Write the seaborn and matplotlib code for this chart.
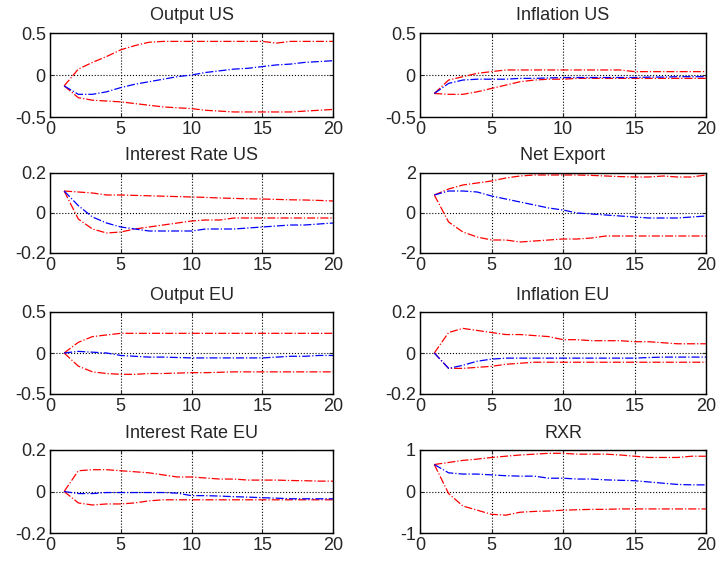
import numpy as np
import matplotlib
matplotlib.use("Agg")
import matplotlib.pyplot as plt
import seaborn as sns

# impulse responses, horizons 1..20 (median in blue, bands in red)
steps = list(range(1, 21))

titles = ["Output US", "Inflation US", "Interest Rate US", "Net Export",
          "Output EU", "Inflation EU", "Interest Rate EU", "RXR"]

out_us_mid = [-0.13, -0.23, -0.23, -0.2, -0.15, -0.11, -0.08, -0.05, -0.02, 0.0,
              0.03, 0.05, 0.07, 0.08, 0.1, 0.12, 0.13, 0.15, 0.16, 0.17]
out_us_hi = [-0.13, 0.07, 0.15, 0.22, 0.3, 0.35, 0.39, 0.4, 0.4, 0.4,
             0.4, 0.4, 0.4, 0.4, 0.4, 0.38, 0.4, 0.4, 0.4, 0.4]
out_us_lo = [-0.13, -0.27, -0.3, -0.31, -0.32, -0.34, -0.36, -0.38, -0.39, -0.4,
             -0.42, -0.43, -0.44, -0.44, -0.44, -0.44, -0.44, -0.43, -0.42, -0.41]

inf_us_mid = [-0.22, -0.1, -0.06, -0.05, -0.05, -0.05, -0.04, -0.04, -0.035, -0.03,
              -0.03, -0.03, -0.03, -0.03, -0.03, -0.025, -0.025, -0.02, -0.02, -0.02]
inf_us_hi = [-0.22, -0.06, -0.02, 0.02, 0.04, 0.06, 0.06, 0.06, 0.06, 0.06,
             0.06, 0.06, 0.06, 0.06, 0.04, 0.04, 0.04, 0.04, 0.04, 0.04]
inf_us_lo = [-0.22, -0.23, -0.23, -0.2, -0.16, -0.12, -0.08, -0.06, -0.05, -0.05,
             -0.04, -0.04, -0.04, -0.04, -0.04, -0.04, -0.04, -0.04, -0.04, -0.04]

ir_us_mid = [0.11, 0.037, -0.02, -0.05, -0.07, -0.08, -0.09, -0.09, -0.09, -0.09,
             -0.08, -0.08, -0.08, -0.075, -0.07, -0.065, -0.06, -0.06, -0.055, -0.05]
ir_us_hi = [0.11, 0.105, 0.1, 0.09, 0.09, 0.088, 0.086, 0.084, 0.082, 0.08,
            0.078, 0.075, 0.073, 0.071, 0.07, 0.068, 0.066, 0.065, 0.063, 0.06]
ir_us_lo = [0.11, -0.03, -0.08, -0.1, -0.095, -0.08, -0.07, -0.06, -0.05, -0.04,
            -0.035, -0.035, -0.025, -0.025, -0.025, -0.025, -0.025, -0.025, -0.025, -0.025]

nx_mid = [0.9, 1.1, 1.1, 1.05, 0.85, 0.7, 0.55, 0.4, 0.25, 0.15,
          0.0, -0.05, -0.1, -0.15, -0.2, -0.25, -0.25, -0.25, -0.2, -0.15]
nx_hi = [0.9, 1.2, 1.4, 1.5, 1.6, 1.75, 1.85, 1.9, 1.9, 1.9,
         1.9, 1.88, 1.85, 1.82, 1.8, 1.8, 1.85, 1.8, 1.8, 1.9]
nx_lo = [0.9, -0.45, -0.95, -1.2, -1.35, -1.35, -1.45, -1.4, -1.35, -1.3,
         -1.3, -1.25, -1.15, -1.15, -1.15, -1.15, -1.15, -1.15, -1.15, -1.15]

out_eu_mid = [0.0, 0.02, 0.01, 0.0, -0.03, -0.04, -0.05, -0.05, -0.055, -0.06,
              -0.06, -0.06, -0.06, -0.06, -0.06, -0.05, -0.04, -0.04, -0.03, -0.03]
out_eu_hi = [0.0, 0.13, 0.2, 0.22, 0.24, 0.24, 0.24, 0.24, 0.24, 0.24,
             0.24, 0.24, 0.24, 0.24, 0.24, 0.24, 0.24, 0.24, 0.24, 0.24]
out_eu_lo = [0.0, -0.16, -0.23, -0.25, -0.26, -0.26, -0.25, -0.25, -0.245, -0.24,
             -0.24, -0.235, -0.23, -0.23, -0.23, -0.23, -0.23, -0.23, -0.23, -0.23]

inf_eu_mid = [0.0, -0.075, -0.06, -0.04, -0.03, -0.025, -0.025, -0.025, -0.025, -0.025,
              -0.025, -0.025, -0.025, -0.025, -0.025, -0.022, -0.02, -0.02, -0.02, -0.02]
inf_eu_hi = [0.0, 0.1, 0.12, 0.11, 0.1, 0.09, 0.09, 0.085, 0.08, 0.065,
             0.065, 0.06, 0.06, 0.06, 0.055, 0.055, 0.05, 0.045, 0.045, 0.045]
inf_eu_lo = [0.0, -0.075, -0.075, -0.07, -0.065, -0.055, -0.05, -0.045, -0.045, -0.045,
             -0.045, -0.045, -0.045, -0.045, -0.045, -0.045, -0.045, -0.045, -0.045, -0.045]

ir_eu_mid = [0.0, -0.01, -0.01, -0.005, -0.005, -0.005, -0.005, -0.005, -0.008, -0.02,
             -0.02, -0.022, -0.025, -0.027, -0.03, -0.032, -0.035, -0.035, -0.035, -0.035]
ir_eu_hi = [0.0, 0.1, 0.105, 0.105, 0.1, 0.095, 0.09, 0.08, 0.07, 0.07,
            0.065, 0.06, 0.06, 0.055, 0.055, 0.055, 0.053, 0.052, 0.05, 0.05]
ir_eu_lo = [0.0, -0.055, -0.065, -0.06, -0.06, -0.055, -0.045, -0.04, -0.04, -0.04,
            -0.04, -0.04, -0.04, -0.04, -0.04, -0.04, -0.04, -0.04, -0.04, -0.04]

rxr_mid = [0.65, 0.45, 0.42, 0.42, 0.4, 0.38, 0.37, 0.37, 0.32, 0.32,
           0.3, 0.3, 0.28, 0.27, 0.26, 0.23, 0.2, 0.17, 0.16, 0.16]
rxr_hi = [0.65, 0.7, 0.75, 0.78, 0.82, 0.85, 0.88, 0.9, 0.92, 0.92,
          0.9, 0.9, 0.9, 0.88, 0.85, 0.82, 0.82, 0.82, 0.85, 0.85]
rxr_lo = [0.65, -0.05, -0.35, -0.45, -0.55, -0.57, -0.5, -0.48, -0.47, -0.45,
          -0.44, -0.43, -0.43, -0.42, -0.42, -0.42, -0.42, -0.42, -0.42, -0.42]

mids = [out_us_mid, inf_us_mid, ir_us_mid, nx_mid, out_eu_mid, inf_eu_mid, ir_eu_mid, rxr_mid]
his = [out_us_hi, inf_us_hi, ir_us_hi, nx_hi, out_eu_hi, inf_eu_hi, ir_eu_hi, rxr_hi]
los = [out_us_lo, inf_us_lo, ir_us_lo, nx_lo, out_eu_lo, inf_eu_lo, ir_eu_lo, rxr_lo]
ylims = [0.5, 0.5, 0.2, 2, 0.5, 0.2, 0.2, 1]

sns.set_style("white")
plt.rcParams['font.family'] = ['Liberation Sans', 'DejaVu Sans']

fig = plt.figure(figsize=(7.18, 5.67), dpi=100)

col_x = [50 / 718, 420 / 718]
col_w = [283 / 718, 286 / 718]
row_top = [33, 173, 312, 450]
row_bot = [117, 253, 394, 533]

for i, title in enumerate(titles):
    r, c = divmod(i, 2)
    ax = fig.add_axes([col_x[c], 1 - row_bot[r] / 567, col_w[c],
                       (row_bot[r] - row_top[r]) / 567])
    lim = ylims[i]
    sns.lineplot(x=steps, y=his[i], ax=ax, color='red', linestyle='-.', lw=0.9)
    sns.lineplot(x=steps, y=los[i], ax=ax, color='red', linestyle='-.', lw=0.9)
    sns.lineplot(x=steps, y=mids[i], ax=ax, color='blue', linestyle='-.', lw=0.9)
    ax.set_xlim(0, 20)
    ax.set_ylim(-lim, lim)
    ax.set_xticks([0, 5, 10, 15, 20])
    ax.set_yticks([-lim, 0, lim])
    ax.set_yticklabels([f'{-lim:g}', '0', f'{lim:g}'])
    ax.grid(True, color='black', linestyle=':', linewidth=0.8)
    ax.tick_params(direction='in', length=3, labelsize=13, pad=3,
                   top=True, right=True, bottom=True, left=True)
    for sp in ax.spines.values():
        sp.set_color('black')
        sp.set_linewidth(1.0)
    ax.set_title(title, fontsize=13, pad=9)

fig.savefig('out.png', dpi=100)
